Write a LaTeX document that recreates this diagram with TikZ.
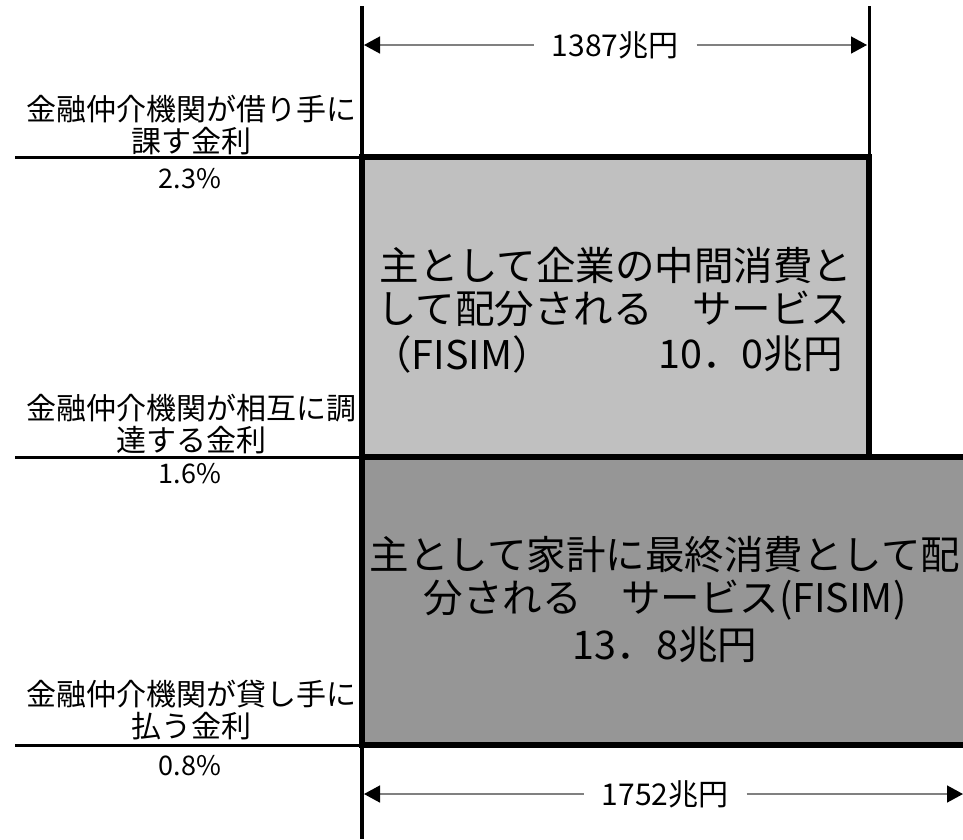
\documentclass[tikz,border=0pt]{standalone}
\usepackage{fontspec}
\setmainfont{Noto Sans CJK JP}
\usetikzlibrary{arrows.meta}
\definecolor{lightbox}{HTML}{C0C0C0}
\definecolor{darkbox}{HTML}{969696}
\definecolor{dimgray}{HTML}{808080}
\begin{document}
\begin{tikzpicture}[x=1pt,y=-1pt,
  thinline/.style={line width=3pt},
  axisline/.style={line width=3.5pt},
  boxline/.style={line width=6pt},
  lbl/.style={font=\fontsize{30}{32}\selectfont, inner sep=0pt},
  pct/.style={font=\fontsize{27}{28}\selectfont, inner sep=0pt},
  boxtxt/.style={font=\fontsize{39.5}{45}\selectfont, inner sep=0pt},
  dimline/.style={draw=dimgray, line width=1.5pt, -{Triangle[length=16pt,width=17pt,color=black]}},
  dimlbl/.style={font=\fontsize{30}{30}\selectfont, inner xsep=18pt, inner ysep=0pt}
]
\useasboundingbox (0,0) rectangle (963,839);
% fills
\fill[lightbox] (362,157) rectangle (869,457);
\fill[darkbox] (362,457) rectangle (970,745);
% coordinates
\coordinate (axT) at (362,6);
\coordinate (axB) at (362,839);
\coordinate (rT) at (869,6);
\coordinate (rB) at (869,157);
\coordinate (h1a) at (15,157);
\coordinate (h1b) at (362,157);
\coordinate (h2a) at (15,457);
\coordinate (h2b) at (362,457);
\coordinate (h3a) at (15,745);
\coordinate (h3b) at (362,745);
\coordinate (b1a) at (362,157);
\coordinate (b1b) at (869,457);
\coordinate (b2r1) at (970,457);
\coordinate (b2r2) at (970,745);
% thin lines
\draw[thinline] (h1a) -- (h1b);
\draw[thinline] (h2a) -- (h2b);
\draw[thinline] (h3a) -- (h3b);
\draw[axisline] (axT) -- (axB);
\draw[thinline] (rT) -- (rB);
% box borders
\draw[boxline] (b1a) rectangle (b1b);
\draw[boxline] (b2r1) -- (h2b) -- (h3b) -- (b2r2);
% left labels
\node[lbl] (l1a) at (191,109) {金融仲介機関が借り手に};
\node[lbl] (l1b) at (191,141) {課す金利};
\node[pct] (p1) at (190,179) {2.3\%};
\node[lbl] (l2a) at (191,408) {金融仲介機関が相互に調};
\node[lbl] (l2b) at (191,440) {達する金利};
\node[pct] (p2) at (190,474) {1.6\%};
\node[lbl] (l3a) at (191,694) {金融仲介機関が貸し手に};
\node[lbl] (l3b) at (191,726) {払う金利};
\node[pct] (p3) at (190,766) {0.8\%};
% box texts
\node[boxtxt] (t1a) at (616,265) {主として企業の中間消費と};
\node[boxtxt] (t1b) at (614,309) {して配分される　サービス};
\node[boxtxt, anchor=west] (t1c) at (372,354) {（FISIM）};
\node[boxtxt, anchor=east] (t1d) at (843,354) {10．0兆円};
\node[boxtxt] (t2a) at (665,555) {主として家計に最終消費として配};
\node[boxtxt] (t2b) at (665,600) {分される　サービス(FISIM)};
\node[boxtxt] (t2c) at (665,645) {13．8兆円};
% dimension arrows
\coordinate (tl) at (364,45);
\coordinate (tr) at (867,45);
\node[dimlbl] (top) at (615,45) {1387兆円};
\draw[dimline] (top) -- (tl);
\draw[dimline] (top) -- (tr);
\coordinate (bl) at (364,794);
\coordinate (br) at (963,794);
\node[dimlbl] (bot) at (665,794) {1752兆円};
\draw[dimline] (bot) -- (bl);
\draw[dimline] (bot) -- (br);
\end{tikzpicture}
\end{document}
